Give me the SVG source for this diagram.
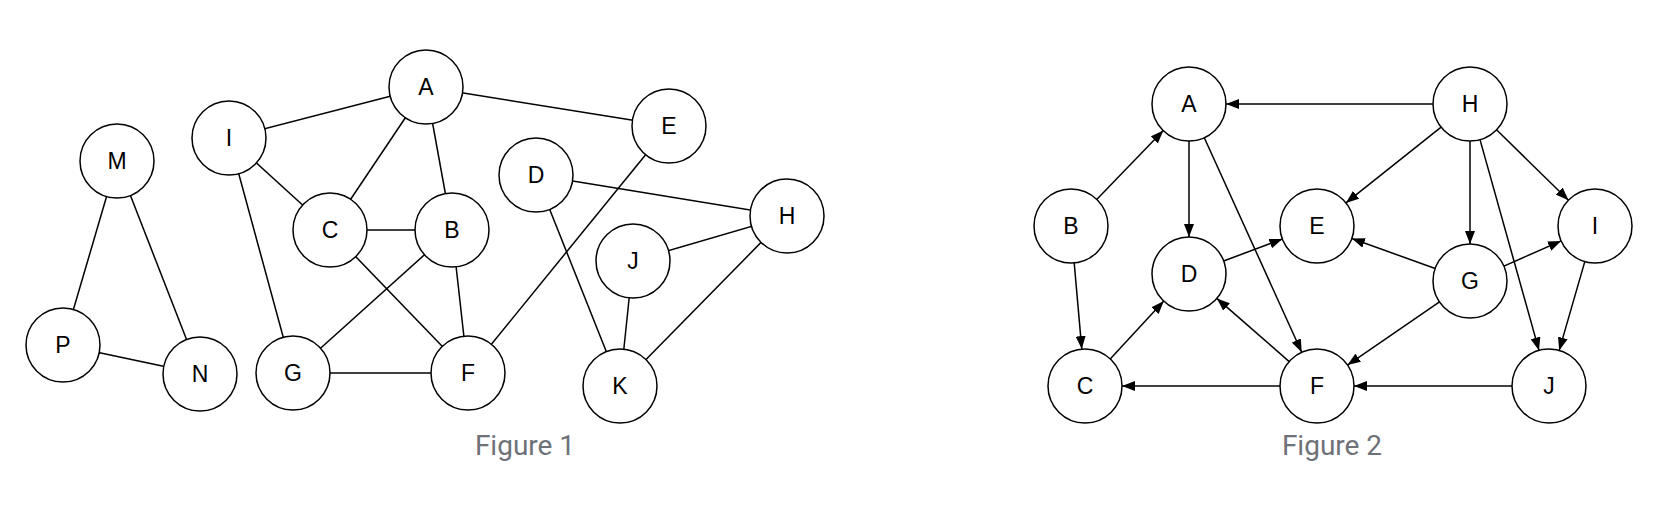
<svg xmlns="http://www.w3.org/2000/svg" width="1674" height="522" viewBox="0 0 1674 522">
<style>
.n circle{fill:#fff;stroke:#000;stroke-width:1.5}
.n text{font-family:"Liberation Sans",Arial,sans-serif;font-size:23px;fill:#000;text-anchor:middle;dominant-baseline:central}
.e line{stroke:#000;stroke-width:1.5}
.cap{font-family:Roboto,"Liberation Sans",sans-serif;font-size:28px;fill:#6e7278;text-anchor:middle}
</style>
<defs>
<marker id="arr" markerUnits="userSpaceOnUse" markerWidth="14" markerHeight="10" refX="13" refY="5" orient="auto">
<path d="M0,0 L13,5 L0,10 z" fill="#000"/>
</marker>
</defs>
<rect width="1674" height="522" fill="#fff"/>
<g id="fig1-edges" class="e">
<line x1="117" y1="161" x2="63" y2="345"/>
<line x1="117" y1="161" x2="200" y2="374"/>
<line x1="63" y1="345" x2="200" y2="374"/>
<line x1="229" y1="138" x2="426" y2="87"/>
<line x1="229" y1="138" x2="330" y2="230"/>
<line x1="229" y1="138" x2="293" y2="373"/>
<line x1="426" y1="87" x2="330" y2="230"/>
<line x1="426" y1="87" x2="452" y2="230"/>
<line x1="426" y1="87" x2="669" y2="126"/>
<line x1="330" y1="230" x2="452" y2="230"/>
<line x1="330" y1="230" x2="468" y2="373"/>
<line x1="452" y1="230" x2="293" y2="373"/>
<line x1="452" y1="230" x2="468" y2="373"/>
<line x1="293" y1="373" x2="468" y2="373"/>
<line x1="669" y1="126" x2="468" y2="373"/>
<line x1="536" y1="175" x2="787" y2="216"/>
<line x1="536" y1="175" x2="620" y2="386"/>
<line x1="633" y1="261" x2="787" y2="216"/>
<line x1="633" y1="261" x2="620" y2="386"/>
<line x1="787" y1="216" x2="620" y2="386"/>
</g>
<g id="f1-M" class="n"><circle cx="117" cy="161" r="37"/><text x="117" y="161">M</text></g>
<g id="f1-P" class="n"><circle cx="63" cy="345" r="37"/><text x="63" y="345">P</text></g>
<g id="f1-N" class="n"><circle cx="200" cy="374" r="37"/><text x="200" y="374">N</text></g>
<g id="f1-I" class="n"><circle cx="229" cy="138" r="37"/><text x="229" y="138">I</text></g>
<g id="f1-A" class="n"><circle cx="426" cy="87" r="37"/><text x="426" y="87">A</text></g>
<g id="f1-C" class="n"><circle cx="330" cy="230" r="37"/><text x="330" y="230">C</text></g>
<g id="f1-B" class="n"><circle cx="452" cy="230" r="37"/><text x="452" y="230">B</text></g>
<g id="f1-G" class="n"><circle cx="293" cy="373" r="37"/><text x="293" y="373">G</text></g>
<g id="f1-F" class="n"><circle cx="468" cy="373" r="37"/><text x="468" y="373">F</text></g>
<g id="f1-E" class="n"><circle cx="669" cy="126" r="37"/><text x="669" y="126">E</text></g>
<g id="f1-D" class="n"><circle cx="536" cy="175" r="37"/><text x="536" y="175">D</text></g>
<g id="f1-H" class="n"><circle cx="787" cy="216" r="37"/><text x="787" y="216">H</text></g>
<g id="f1-J" class="n"><circle cx="633" cy="261" r="37"/><text x="633" y="261">J</text></g>
<g id="f1-K" class="n"><circle cx="620" cy="386" r="37"/><text x="620" y="386">K</text></g>
<text class="cap" x="525" y="455">Figure 1</text>

<g id="fig2-edges" class="e">
<line x1="1433" y1="104" x2="1226" y2="104" marker-end="url(#arr)"/>
<line x1="1096.7" y1="199.4" x2="1163.3" y2="130.6" marker-end="url(#arr)"/>
<line x1="1074.2" y1="262.9" x2="1081.8" y2="349.1" marker-end="url(#arr)"/>
<line x1="1189" y1="141" x2="1189" y2="237" marker-end="url(#arr)"/>
<line x1="1204.3" y1="137.7" x2="1301.7" y2="352.3" marker-end="url(#arr)"/>
<line x1="1110.2" y1="358.9" x2="1163.8" y2="301.1" marker-end="url(#arr)"/>
<line x1="1223.6" y1="261" x2="1282.4" y2="239" marker-end="url(#arr)"/>
<line x1="1289.2" y1="361.6" x2="1216.8" y2="298.4" marker-end="url(#arr)"/>
<line x1="1280" y1="386" x2="1122" y2="386" marker-end="url(#arr)"/>
<line x1="1441.1" y1="127.1" x2="1345.9" y2="202.9" marker-end="url(#arr)"/>
<line x1="1470" y1="141" x2="1470" y2="244" marker-end="url(#arr)"/>
<line x1="1480" y1="139.6" x2="1539" y2="350.4" marker-end="url(#arr)"/>
<line x1="1496.5" y1="129.8" x2="1568.5" y2="200.2" marker-end="url(#arr)"/>
<line x1="1435.2" y1="268.5" x2="1351.8" y2="238.5" marker-end="url(#arr)"/>
<line x1="1503.9" y1="266.1" x2="1561.1" y2="240.9" marker-end="url(#arr)"/>
<line x1="1439.5" y1="301.9" x2="1347.5" y2="365.1" marker-end="url(#arr)"/>
<line x1="1584.8" y1="261.6" x2="1559.2" y2="350.4" marker-end="url(#arr)"/>
<line x1="1512" y1="386" x2="1354" y2="386" marker-end="url(#arr)"/>
</g>
<g id="f2-A" class="n"><circle cx="1189" cy="104" r="37"/><text x="1189" y="104">A</text></g>
<g id="f2-H" class="n"><circle cx="1470" cy="104" r="37"/><text x="1470" y="104">H</text></g>
<g id="f2-B" class="n"><circle cx="1071" cy="226" r="37"/><text x="1071" y="226">B</text></g>
<g id="f2-E" class="n"><circle cx="1317" cy="226" r="37"/><text x="1317" y="226">E</text></g>
<g id="f2-I" class="n"><circle cx="1595" cy="226" r="37"/><text x="1595" y="226">I</text></g>
<g id="f2-D" class="n"><circle cx="1189" cy="274" r="37"/><text x="1189" y="274">D</text></g>
<g id="f2-G" class="n"><circle cx="1470" cy="281" r="37"/><text x="1470" y="281">G</text></g>
<g id="f2-C" class="n"><circle cx="1085" cy="386" r="37"/><text x="1085" y="386">C</text></g>
<g id="f2-F" class="n"><circle cx="1317" cy="386" r="37"/><text x="1317" y="386">F</text></g>
<g id="f2-J" class="n"><circle cx="1549" cy="386" r="37"/><text x="1549" y="386">J</text></g>
<text class="cap" x="1332" y="455">Figure 2</text>
</svg>
